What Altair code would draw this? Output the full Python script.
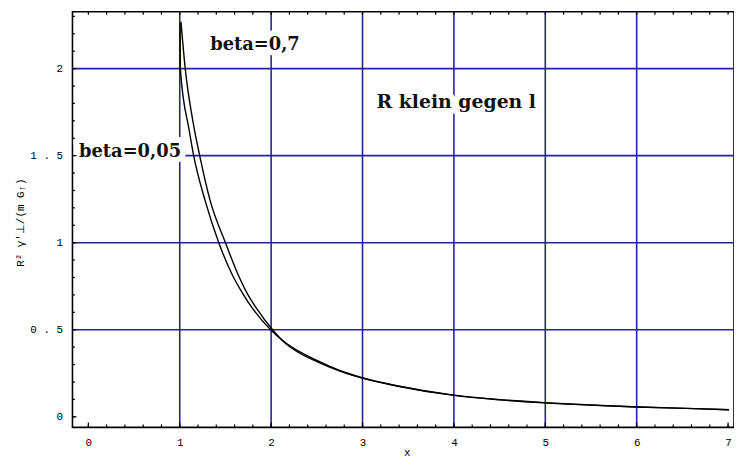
import altair as alt
import pandas as pd

# ---- data ----
x_b07 = [1.013, 1.06, 1.15, 1.216, 1.332, 1.50, 1.631, 1.747, 1.837, 2.02, 2.15, 2.29, 2.507, 2.73, 2.996, 3.375, 4.0, 4.46, 4.99, 5.55, 6.01, 6.63, 7.01]
y_b07 = [2.27, 2.0, 1.68, 1.506, 1.243, 1.0, 0.826, 0.70, 0.625, 0.497, 0.425, 0.372, 0.315, 0.266, 0.222, 0.177, 0.123, 0.099, 0.080, 0.066, 0.056, 0.047, 0.040]

x_b005 = [1.004, 1.006, 1.104, 1.15, 1.277, 1.427, 1.577, 1.693, 1.80, 2.0, 2.15, 2.29, 2.507, 2.73, 2.996, 3.375, 4.0, 4.46, 4.99, 5.55, 6.01, 6.63, 7.01]
y_b005 = [2.26, 2.0, 1.643, 1.506, 1.243, 1.0, 0.813, 0.705, 0.62, 0.497, 0.428, 0.38, 0.322, 0.27, 0.224, 0.178, 0.124, 0.100, 0.081, 0.066, 0.056, 0.047, 0.040]

label_text = ["beta=0,7", "beta=0,05", "R klein gegen l"]
label_x = [1.823, 0.456, 4.026]
label_y = [2.133, 1.523, 1.808]
label_size = [18, 18, 19]

x_ticks = [0, 1, 2, 3, 4, 5, 6, 7]
x_minor = [i / 5 for i in range(0, 36)]
y_ticks = [0, 0.5, 1, 1.5, 2]
y_minor = [i / 10 for i in range(0, 24)]
grid_x = [1, 2, 3, 4, 5, 6]
grid_y = [0.5, 1, 1.5, 2]

BLUE = "#25259a"
W, H = 667, 419

curves = pd.DataFrame(
    {"x": x_b07 + x_b005, "y": y_b07 + y_b005,
     "series": ["beta=0,7"] * len(x_b07) + ["beta=0,05"] * len(x_b005)}
)
labels = pd.DataFrame({"t": label_text, "x": label_x, "y": label_y, "s": label_size})

xs = alt.Scale(domain=[-0.174, 7.065], nice=False, zero=False)
ys = alt.Scale(domain=[-0.061, 2.326], nice=False, zero=False)

LBL = "replace(format(datum.value, '~g'), '.', ' . ')"
xaxis = alt.Axis(values=x_ticks, ticks=False, domain=False, grid=False,
                 labelFont="Liberation Mono", labelFontSize=11, labelPadding=9,
                 labelExpr=LBL, labelColor="black",
                 titleFont="Liberation Mono", titleFontSize=11, titleFontWeight="normal",
                 titleX=337, titleY=25, titleBaseline="middle", titleColor="black")
yaxis = alt.Axis(values=y_ticks, ticks=False, domain=False, grid=False,
                 labelFont="Liberation Mono", labelFontSize=11, labelPadding=10,
                 labelExpr=LBL, labelColor="black",
                 titleFont="Liberation Mono", titleFontSize=11, titleFontWeight="normal",
                 titleX=-52, titleY=212, titleBaseline="middle", titleAlign="center",
                 titleColor="black")
XT = "x"
YT = "R² γ'⊥/(m Gᵣ)"


def X(f):
    return alt.X(f, scale=xs, axis=xaxis, title=XT)


def Y(f):
    return alt.Y(f, scale=ys, axis=yaxis, title=YT)


gx = alt.Chart(pd.DataFrame({"gx": grid_x})).mark_rule(color=BLUE, strokeWidth=1.6).encode(
    x=X("gx:Q"))
gy = alt.Chart(pd.DataFrame({"gy": grid_y})).mark_rule(color=BLUE, strokeWidth=1.6).encode(
    y=Y("gy:Q"))

halo = alt.Chart(labels).mark_text(
    font="DejaVu Serif", fontWeight="bold", color="white",
    stroke="white", strokeWidth=12, strokeJoin="round", align="center", baseline="middle"
).encode(x=X("x:Q"), y=Y("y:Q"), text="t:N", size=alt.Size("s:Q", scale=None, legend=None))

lines = alt.Chart(curves).mark_line(color="black", strokeWidth=1.4, interpolate="monotone").encode(
    x=X("x:Q"), y=Y("y:Q"), detail="series:N", order="x:Q")

text = alt.Chart(labels).mark_text(
    font="DejaVu Serif", fontWeight="bold", color="#111111",
    align="center", baseline="middle"
).encode(x=X("x:Q"), y=Y("y:Q"), text="t:N", size=alt.Size("s:Q", scale=None, legend=None))

xt_major = alt.Chart(pd.DataFrame({"t": x_ticks})).mark_rule(color="black", strokeWidth=1.2).encode(
    x=X("t:Q"), y=alt.value(H), y2=alt.value(H - 5))
xt_minor = alt.Chart(pd.DataFrame({"t": x_minor})).mark_rule(color="black", strokeWidth=1.2).encode(
    x=X("t:Q"), y=alt.value(H), y2=alt.value(H - 3))
xt_top = alt.Chart(pd.DataFrame({"t": x_minor})).mark_rule(color="black", strokeWidth=1.2).encode(
    x=X("t:Q"), y=alt.value(0), y2=alt.value(3))
yt_major = alt.Chart(pd.DataFrame({"t": y_ticks})).mark_rule(color="black", strokeWidth=1.2).encode(
    y=Y("t:Q"), x=alt.value(0), x2=alt.value(4))
yt_minor = alt.Chart(pd.DataFrame({"t": y_minor})).mark_rule(color="black", strokeWidth=1.2).encode(
    y=Y("t:Q"), x=alt.value(0), x2=alt.value(2.5))

chart = alt.layer(gx, gy, halo, lines, text, xt_major, xt_minor, xt_top, yt_major, yt_minor).properties(
    width=W, height=H,
    autosize=alt.AutoSizeParams(type="none"),
    padding={"left": 65, "top": 2, "right": 0, "bottom": 29},
    background="white",
).configure_view(stroke="black", strokeWidth=1.6)

chart.save("out.html", embed_options={"renderer": "svg", "actions": False})
